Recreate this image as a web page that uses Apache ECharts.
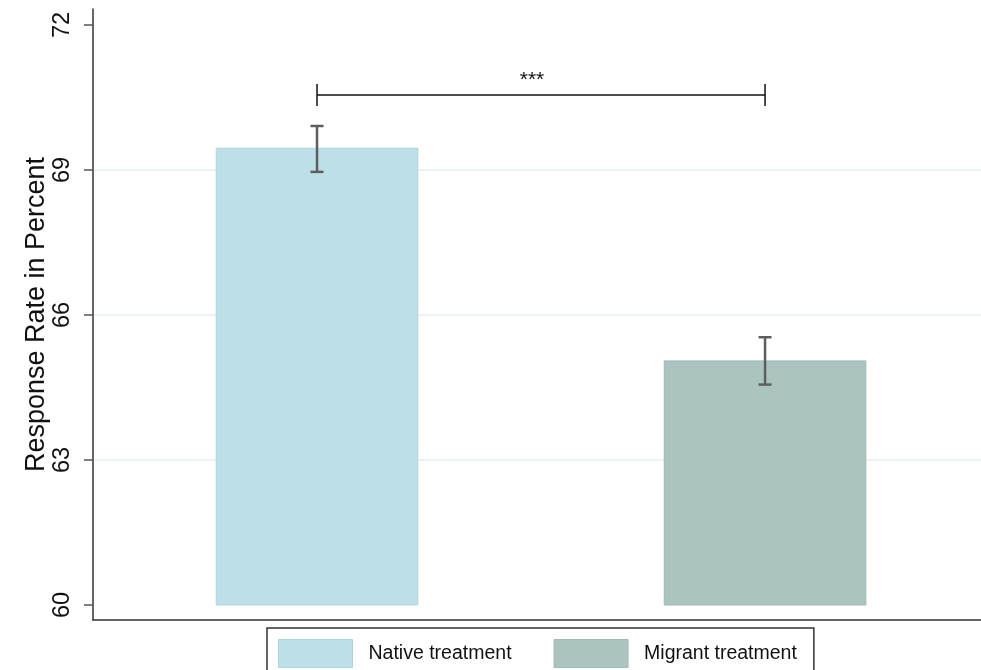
<!DOCTYPE html>
<html>
<head>
<meta charset="utf-8">
<script src="https://cdn.jsdelivr.net/npm/echarts@6/dist/echarts.min.js"></script>
<style>
html,body{margin:0;padding:0;background:#fff;}
#chart{width:981px;height:670px;}
</style>
</head>
<body>
<div id="chart"></div>
<script>
// ---- data ----
const categories = ['Native treatment', 'Migrant treatment'];
const categoryIndex = [0, 1];
const means = [69.45, 65.05];
const ciLow = [68.96, 64.56];
const ciHigh = [69.91, 65.54];
const baseline = 60;
const yTicks = [60, 63, 66, 69, 72];
const gridValues = [63, 66, 69];
const bracketY = 70.55;
const sigLabel = '***';
const yMin = 59.69;
const yMax = 72.33;
const xMin = -0.5;
const xMax = 1.482;

// ---- styles ----
const barColors = ['#bcdfe8', '#abc4c0'];
const barBorders = ['#aed5df', '#9dbab5'];
const FONT = 'Liberation Sans, Arial, sans-serif';

const chart = echarts.init(document.getElementById('chart'), null, {renderer: 'canvas'});

function barSeries(idx) {
  return {
    name: categories[idx],
    type: 'custom',
    z: 2,
    itemStyle: {color: barColors[idx], borderColor: barBorders[idx], borderWidth: 1},
    data: [[categoryIndex[idx], means[idx]]],
    renderItem: function (params, api) {
      const i = api.value(0), v = api.value(1);
      const top = api.coord([i, v]);
      const bot = api.coord([i, baseline]);
      const w = api.size([1, 0])[0] * 0.45;
      return {
        type: 'rect',
        shape: {x: top[0] - w / 2, y: top[1], width: w, height: bot[1] - top[1]},
        style: {fill: barColors[idx], stroke: barBorders[idx], lineWidth: 1}
      };
    }
  };
}

const option = {
  animation: false,
  backgroundColor: '#ffffff',
  grid: {left: 93, right: 0, top: 9, bottom: 50, containLabel: false},
  legend: {
    left: 267, top: 628,
    orient: 'horizontal',
    itemWidth: 74, itemHeight: 28, itemGap: 42,
    padding: [11, 17, 11, 11],
    borderColor: '#333', borderWidth: 1.5, borderRadius: 0,
    icon: 'rect',
    data: categories.map((c, i) => ({name: c, itemStyle: {color: barColors[i], borderColor: barBorders[i], borderWidth: 1}})),
    textStyle: {fontSize: 19.5, fontFamily: FONT, color: '#111', padding: [0, 0, 0, 11]}
  },
  xAxis: {
    type: 'value',
    min: xMin, max: xMax,
    axisLine: {show: true, onZero: false, lineStyle: {color: '#333', width: 1.5}},
    axisTick: {show: false},
    axisLabel: {show: false},
    splitLine: {show: false}
  },
  yAxis: {
    type: 'value',
    min: yMin, max: yMax,
    name: 'Response Rate in Percent',
    nameLocation: 'middle',
    nameGap: 43,
    nameMoveOverlap: false,
    nameTextStyle: {fontSize: 27, fontFamily: FONT, color: '#111'},
    axisLine: {show: true, onZero: false, lineStyle: {color: '#333', width: 1.5}},
    axisTick: {show: true, customValues: yTicks, length: 9, lineStyle: {color: '#555', width: 1.5}},
    axisLabel: {customValues: yTicks, rotate: 90, fontSize: 23.5, fontFamily: FONT, color: '#111', margin: 18},
    splitLine: {show: false}
  },
  series: [
    {
      name: 'gridlines',
      type: 'custom',
      z: 1,
      silent: true,
      data: gridValues.map(v => [0, v]),
      renderItem: function (params, api) {
        const p = api.coord([0, api.value(1)]);
        const cs = params.coordSys;
        return {
          type: 'line',
          shape: {x1: cs.x + 1, y1: p[1], x2: cs.x + cs.width, y2: p[1]},
          style: {stroke: '#e6eff1', lineWidth: 1.5}
        };
      }
    },
    barSeries(0),
    barSeries(1),
    {
      name: 'ci',
      type: 'custom',
      z: 3,
      silent: true,
      data: categoryIndex.map((c, i) => [c, ciLow[i], ciHigh[i]]),
      renderItem: function (params, api) {
        const i = api.value(0);
        const lo = api.coord([i, api.value(1)]);
        const hi = api.coord([i, api.value(2)]);
        const hw = 6.5;
        const st = {stroke: '#5e5e5e', lineWidth: 2.5};
        return {
          type: 'group',
          children: [
            {type: 'line', shape: {x1: lo[0], y1: lo[1], x2: hi[0], y2: hi[1]}, style: st},
            {type: 'line', shape: {x1: lo[0] - hw, y1: lo[1], x2: lo[0] + hw, y2: lo[1]}, style: st},
            {type: 'line', shape: {x1: hi[0] - hw, y1: hi[1], x2: hi[0] + hw, y2: hi[1]}, style: st}
          ]
        };
      }
    },
    {
      name: 'bracket',
      type: 'custom',
      z: 4,
      silent: true,
      data: [[categoryIndex[0], categoryIndex[1], bracketY]],
      renderItem: function (params, api) {
        const a = api.coord([api.value(0), api.value(2)]);
        const b = api.coord([api.value(1), api.value(2)]);
        const th = 11;
        const st = {stroke: '#111', lineWidth: 1.5};
        return {
          type: 'group',
          children: [
            {type: 'line', shape: {x1: a[0], y1: a[1], x2: b[0], y2: b[1]}, style: st},
            {type: 'line', shape: {x1: a[0], y1: a[1] - th, x2: a[0], y2: a[1] + th}, style: st},
            {type: 'line', shape: {x1: b[0], y1: b[1] - th, x2: b[0], y2: b[1] + th}, style: st},
            {type: 'text', style: {x: (a[0] + b[0]) / 2 - 9, y: a[1] - 15, text: sigLabel, align: 'center', verticalAlign: 'middle', fontSize: 21, fontFamily: FONT, fill: '#111'}}
          ]
        };
      }
    }
  ]
};

chart.setOption(option);
</script>
</body>
</html>
